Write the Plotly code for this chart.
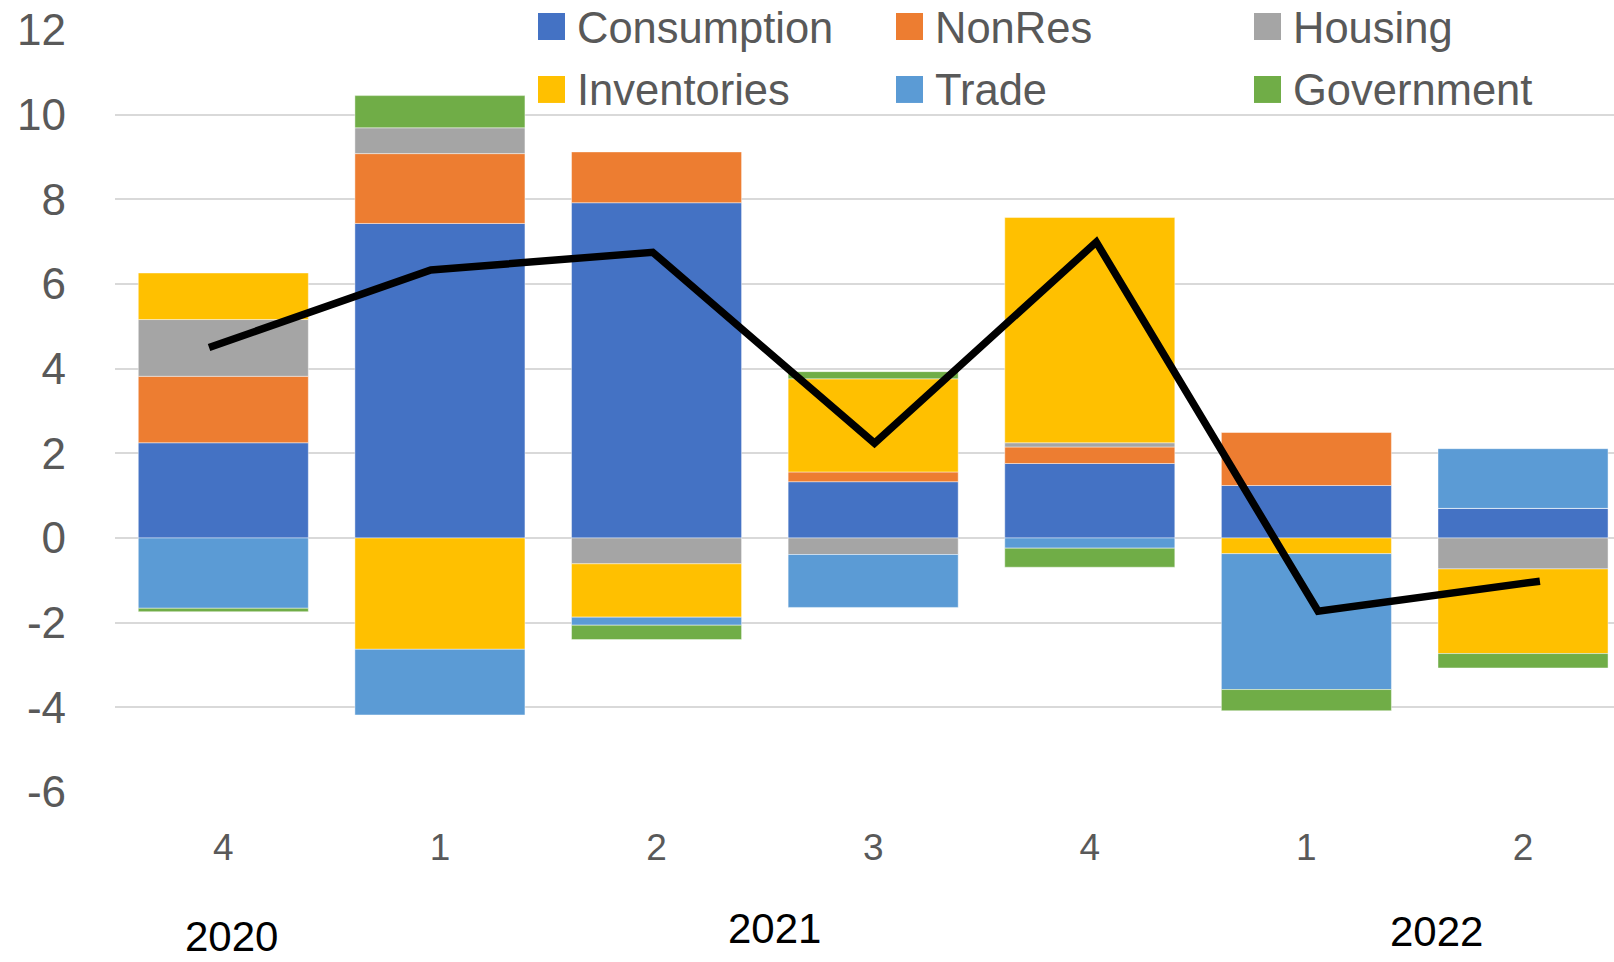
import plotly.graph_objects as go

# ---------------- data ----------------
quarters = ["4", "1", "2", "3", "4", "1", "2"]
years = ["2020", "2021", "2022"]
series_names = ["Consumption", "NonRes", "Housing", "Inventories", "Trade", "Government"]
consumption = [2.25, 7.43, 7.92, 1.33, 1.76, 1.24, 0.70]
nonres = [1.57, 1.65, 1.20, 0.23, 0.39, 1.26, 0.00]
housing = [1.34, 0.61, -0.61, -0.39, 0.10, 0.00, -0.73]
inventories = [1.10, -2.63, -1.26, 2.20, 5.32, -0.37, -2.00]
trade = [-1.66, -1.55, -0.19, -1.25, -0.24, -3.21, 1.41]
government = [-0.08, 0.76, -0.34, 0.17, -0.45, -0.50, -0.34]
gdp = [4.50, 6.33, 6.75, 2.24, 6.99, -1.73, -1.02]
y_ticks = [-6, -4, -2, 0, 2, 4, 6, 8, 10, 12]

# ---------------- style ----------------
colors = ["#4472C4", "#ED7D31", "#A5A5A5", "#FFC000", "#5B9BD5", "#70AD47"]
FONT = "Liberation Sans"
GRAY = "#595959"
W, H = 1614, 962
L, R, T, B = 115, 0, 30, 169.5


def px_x(px):
    return (px - L) / (W - L - R)


def px_y(py):
    return (H - B - py) / (H - T - B)


idx = list(range(len(quarters)))
values = [consumption, nonres, housing, inventories, trade, government]

fig = go.Figure()
for name, vals, col in zip(series_names, values, colors):
    fig.add_trace(go.Bar(
        x=idx, y=vals, name=name, marker_color=col,
        marker_line=dict(width=0.8, color="rgba(255,255,255,0.55)"),
        showlegend=False,
    ))

fig.add_trace(go.Scatter(
    x=idx, y=gdp, mode="lines", name="GDP", xaxis="x2",
    line=dict(color="black", width=7.5), showlegend=False,
))

# manual legend (large square swatches like the original)
legend_cols = [538, 896, 1254]
legend_rows = [13, 76]
sw = 27
shapes = []
annotations = []
for i, (name, col) in enumerate(zip(series_names, colors)):
    r, c = divmod(i, 3)
    x0 = legend_cols[c]
    y0 = legend_rows[r]
    shapes.append(dict(type="rect", xref="paper", yref="paper",
                       x0=px_x(x0), x1=px_x(x0 + sw), y0=px_y(y0 + sw), y1=px_y(y0),
                       fillcolor=col, line=dict(width=0), layer="above"))
    annotations.append(dict(x=px_x(x0 + sw + 10), y=px_y(y0 + sw / 2 + 1),
                            xref="paper", yref="paper", text=name, showarrow=False,
                            xanchor="left", yanchor="middle",
                            font=dict(family=FONT, size=43.5, color=GRAY)))

# year labels
year_pos = [(231, 937), (774, 929), (1436, 932)]
for yr, (xp, yp) in zip(years, year_pos):
    annotations.append(dict(x=px_x(xp), y=px_y(yp), xref="paper", yref="paper",
                            text=yr, showarrow=False, xanchor="center", yanchor="middle",
                            font=dict(family=FONT, size=42, color="black")))

fig.update_layout(
    width=W, height=H,
    margin=dict(l=L, r=R, t=T, b=B, pad=0),
    barmode="relative", bargap=0.215,
    plot_bgcolor="white", paper_bgcolor="white",
    font=dict(family=FONT, color=GRAY),
    xaxis=dict(range=[-0.5, 6.42], tickvals=idx, ticktext=quarters,
               tickfont=dict(size=37, color=GRAY), showgrid=False, zeroline=False,
               showline=False, ticks="", ticklabelstandoff=30, fixedrange=True),
    xaxis2=dict(range=[-0.424, 6.334], overlaying="x", visible=False),
    yaxis=dict(range=[-6, 12], tickvals=y_ticks, ticktext=[str(v) for v in y_ticks],
               tickfont=dict(size=44, color=GRAY), showgrid=True, gridcolor="#D9D9D9",
               gridwidth=1.8, zeroline=True, zerolinecolor="#D9D9D9", zerolinewidth=1.8,
               showline=False, ticks="", ticklabelstandoff=48),
    shapes=shapes,
    annotations=annotations,
)

fig.write_html("out.html", config={"displayModeBar": False},
               post_script="document.body.style.margin='0';document.body.style.overflow='hidden';")
